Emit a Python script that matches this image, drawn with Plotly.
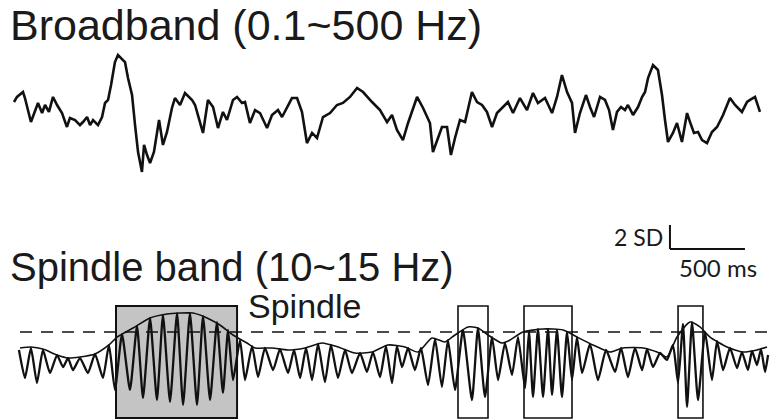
import plotly.graph_objects as go

W, H = 772, 420

# ---- Broadband (0.1-500 Hz) trace: time (s), amplitude (SD) ----
bb_t = [0.000, 0.020, 0.060, 0.073, 0.113, 0.140, 0.160, 0.187, 0.207, 0.233,
        0.260, 0.287, 0.320, 0.353, 0.373, 0.407, 0.440, 0.460, 0.487, 0.507,
        0.527, 0.560, 0.587, 0.607, 0.627, 0.647, 0.673, 0.693, 0.740, 0.760,
        0.787, 0.807, 0.827, 0.853, 0.867, 0.887, 0.907, 0.933, 0.967, 0.993,
        1.020, 1.053, 1.073, 1.107, 1.140, 1.187, 1.207, 1.260, 1.293, 1.327,
        1.360, 1.393, 1.420, 1.460, 1.487, 1.520, 1.540, 1.573, 1.607, 1.640,
        1.687, 1.720, 1.760, 1.787, 1.820, 1.853, 1.887, 1.920, 1.953, 1.987,
        2.020, 2.060, 2.107, 2.153, 2.193, 2.240, 2.287, 2.327, 2.387, 2.440,
        2.487, 2.520, 2.553, 2.593, 2.627, 2.687, 2.727, 2.773, 2.793, 2.827,
        2.853, 2.887, 2.913, 2.940, 2.973, 3.007, 3.053, 3.087, 3.120, 3.153,
        3.187, 3.220, 3.260, 3.293, 3.327, 3.373, 3.420, 3.460, 3.493, 3.540,
        3.587, 3.620, 3.653, 3.687, 3.720, 3.740, 3.773, 3.813, 3.840, 3.867,
        3.907, 3.940, 3.967, 3.993, 4.020, 4.047, 4.073, 4.093, 4.127, 4.160,
        4.187, 4.207, 4.227, 4.260, 4.293, 4.320, 4.340, 4.360, 4.393, 4.420,
        4.453, 4.487, 4.507, 4.533, 4.560, 4.587, 4.620, 4.653, 4.687, 4.727,
        4.773, 4.807, 4.853, 4.887, 4.907, 4.940, 4.973]
bb_a = [0.25, 0.67, 1.08, 0.58, -1.42, -0.42, 0.17, -0.67, 0.00, -0.58,
        0.67, 0.00, -0.67, -1.83, -1.08, -1.25, -1.67, -1.42, -1.00, -1.67,
        -1.25, -1.67, -1.00, 0.17, 0.42, 1.67, 3.58, 4.17, 3.58, 2.25,
        0.83, -1.67, -3.92, -5.58, -3.33, -4.17, -4.83, -3.92, -1.25, -3.33,
        -2.25, -0.25, 0.58, 0.00, 1.00, 0.42, 0.00, -2.33, 0.42, -0.17,
        -1.92, -0.58, -1.25, 0.42, 0.67, 0.17, 0.25, -1.50, -0.42, -0.67,
        -1.92, -0.83, -0.42, -1.00, -0.17, 0.58, 0.58, -0.58, -3.17, -2.33,
        -2.75, -1.00, -0.67, 0.00, 0.17, 0.67, 1.42, 1.08, 0.25, -0.42,
        -1.42, -0.83, -2.08, -2.92, -1.50, 0.67, -0.25, -1.50, -3.92, -2.75,
        -1.83, -1.83, -4.17, -2.75, -1.25, -1.42, 1.08, 0.25, 0.00, -0.58,
        -1.83, -0.67, -0.17, 0.25, -0.67, 0.58, -0.42, 1.00, 0.17, 0.58,
        -0.67, 0.67, 2.50, 1.08, 0.17, -2.33, -0.67, 0.83, -0.17, -1.00,
        0.67, 0.42, -0.42, -2.08, -0.58, -0.17, -0.42, 0.00, -0.83, -0.17,
        0.67, 1.08, 2.25, 3.33, 2.92, 0.83, -1.25, -3.08, -2.33, -1.50,
        -3.08, -0.67, -1.42, -2.33, -2.25, -2.92, -3.17, -2.25, -1.83, -0.83,
        0.58, 0.00, -0.58, 0.25, 0.42, 0.67, -0.58]

# ---- Spindle band (10-15 Hz) filtered signal: time (s), amplitude (SD) ----
sp_t = [0.033, 0.073, 0.113, 0.153, 0.193, 0.240, 0.287, 0.327, 0.360, 0.393,
        0.440, 0.493, 0.540, 0.593, 0.633, 0.673, 0.720, 0.773, 0.820, 0.860,
        0.907, 0.953, 0.993, 1.040, 1.087, 1.127, 1.173, 1.220, 1.260, 1.307,
        1.353, 1.393, 1.427, 1.460, 1.507, 1.540, 1.587, 1.627, 1.673, 1.727,
        1.773, 1.827, 1.867, 1.907, 1.947, 1.987, 2.027, 2.073, 2.113, 2.160,
        2.207, 2.253, 2.307, 2.353, 2.393, 2.440, 2.480, 2.520, 2.553, 2.587,
        2.627, 2.673, 2.713, 2.760, 2.807, 2.853, 2.893, 2.940, 2.993, 3.053,
        3.093, 3.140, 3.187, 3.227, 3.273, 3.320, 3.360, 3.407, 3.433, 3.460,
        3.493, 3.527, 3.560, 3.587, 3.620, 3.653, 3.687, 3.720, 3.753, 3.787,
        3.840, 3.893, 3.947, 4.007, 4.047, 4.093, 4.140, 4.187, 4.220, 4.260,
        4.307, 4.353, 4.393, 4.427, 4.460, 4.487, 4.520, 4.560, 4.607, 4.653,
        4.687, 4.727, 4.773, 4.820, 4.853, 4.893, 4.920, 4.953, 4.980, 5.007,
        5.027]
sp_a = [1.00, -1.33, 1.17, -1.75, 1.00, -0.92, 0.58, -0.42, 0.33, -0.67,
        0.33, -0.92, 0.67, -1.33, 1.42, -2.33, 2.33, -2.33, 3.00, -3.00,
        3.67, -3.17, 3.92, -3.33, 4.08, -3.58, 4.08, -3.58, 3.83, -3.17,
        3.33, -2.58, 2.67, -1.50, 1.83, -1.50, 1.33, -1.25, 1.17, -0.67,
        1.08, -0.92, 1.00, -1.33, 1.17, -1.50, 1.50, -1.67, 1.42, -1.33,
        1.00, -0.92, 0.75, -0.83, 0.83, -1.25, 1.33, -1.75, 1.33, -0.42,
        1.17, -0.67, 1.17, -1.92, 1.92, -2.08, 1.83, -2.33, 2.67, -3.17,
        2.83, -2.92, 2.08, -1.50, 1.58, -1.08, 2.08, -2.17, 2.58, -2.92,
        2.75, -2.92, 2.75, -2.75, 2.67, -2.92, 2.50, -1.50, 2.08, -0.92,
        1.50, -1.50, 1.00, -0.83, 1.17, -1.25, 1.17, -0.67, 1.08, -0.42,
        0.75, 0.17, 1.42, -1.75, 3.17, -3.75, 3.33, -3.17, 2.50, -1.50,
        1.75, -0.67, 1.17, -0.50, 0.83, -0.67, 0.92, -0.25, 1.08, -0.83,
        0.58]

# ---- Amplitude envelope of the spindle-band signal ----
env_t = [0.040, 0.113, 0.193, 0.287, 0.360, 0.440, 0.540, 0.633, 0.687, 0.793,
         0.907, 1.020, 1.107, 1.193, 1.287, 1.373, 1.460, 1.553, 1.607, 1.720,
         1.827, 1.940, 2.053, 2.160, 2.273, 2.387, 2.493, 2.607, 2.693, 2.787,
         2.873, 2.940, 3.027, 3.093, 3.160, 3.253, 3.307, 3.393, 3.527, 3.660,
         3.753, 3.860, 3.973, 4.060, 4.193, 4.287, 4.353, 4.420, 4.507, 4.573,
         4.640, 4.753, 4.860, 4.953, 5.020]
env_a = [1.17, 1.25, 1.08, 0.58, 0.33, 0.42, 0.67, 1.42, 2.08, 2.83,
         3.67, 4.00, 4.08, 4.08, 3.67, 3.08, 2.25, 1.58, 1.17, 1.17,
         1.00, 1.17, 1.58, 1.25, 0.75, 0.83, 1.42, 1.25, 0.83, 2.00,
         1.67, 2.25, 2.92, 2.83, 2.25, 1.58, 1.83, 2.50, 2.75, 2.67,
         2.08, 1.42, 0.83, 1.17, 1.17, 0.83, 0.42, 2.08, 3.33, 2.92,
         2.08, 1.25, 0.83, 1.00, 1.25]

threshold_sd = 2.5
threshold_span = (0.04, 5.02)

# Detected spindle windows (start s, end s); first one highlighted
spindle_windows = [(0.680, 1.487), (2.960, 3.160), (3.400, 3.720), (4.427, 4.593)]
highlighted = [True, False, False, False]
window_half_height_sd = 4.67

scale_ms = 500
scale_sd = 2

# ---- axis geometry ----
x_range = [-14 / 150, (W - 14) / 150]
top_domain = [1 - 185 / H, 1 - 40 / H]
top_range = [(105 - 185) / 12, (105 - 40) / 12]
bot_domain = [0, 1 - 200 / H]
bot_range = [(362 - 420) / 12, (362 - 200) / 12]

fig = go.Figure()

fig.add_trace(go.Scatter(x=bb_t, y=bb_a, mode="lines",
                         line=dict(color="#111111", width=2.6),
                         xaxis="x", yaxis="y", hoverinfo="skip"))

fig.add_trace(go.Scatter(x=list(threshold_span), y=[threshold_sd, threshold_sd],
                         mode="lines",
                         line=dict(color="#111111", width=1.5, dash="12px,9px"),
                         xaxis="x", yaxis="y2", hoverinfo="skip"))

fig.add_trace(go.Scatter(x=sp_t, y=sp_a, mode="lines",
                         line=dict(color="#111111", width=2.3, shape="spline", smoothing=0.5),
                         xaxis="x", yaxis="y2", hoverinfo="skip"))

fig.add_trace(go.Scatter(x=env_t, y=env_a, mode="lines",
                         line=dict(color="#111111", width=1.6, shape="spline", smoothing=0.6),
                         xaxis="x", yaxis="y2", hoverinfo="skip"))

shapes = []
for (t0, t1), hl in zip(spindle_windows, highlighted):
    shapes.append(dict(type="rect", xref="x", yref="y2",
                       x0=t0, x1=t1, y0=-window_half_height_sd, y1=window_half_height_sd,
                       line=dict(color="#111111", width=2 if hl else 1.6),
                       fillcolor="#c4c4c4" if hl else "rgba(0,0,0,0)",
                       layer="below"))

# scale bar anchored in the bottom panel
sb_t0, sb_a0 = 4.373, 9.42
shapes.append(dict(type="line", xref="x", yref="y2", x0=sb_t0, x1=sb_t0,
                   y0=sb_a0, y1=sb_a0 + scale_sd, line=dict(color="#111111", width=2)))
shapes.append(dict(type="line", xref="x", yref="y2", x0=sb_t0, x1=sb_t0 + scale_ms / 1000,
                   y0=sb_a0, y1=sb_a0, line=dict(color="#111111", width=2)))

title_font = dict(family="Liberation Sans, Arial, sans-serif", size=42, color="#1a1a1a")
annotations = [
    dict(text="Broadband (0.1~500 Hz)", xref="paper", yref="paper",
         x=8 / W, y=1 - 25 / H, xanchor="left", yanchor="middle",
         showarrow=False, font=dict(title_font, size=43)),
    dict(text="Spindle band (10~15 Hz)", xref="paper", yref="paper",
         x=8 / W, y=1 - 267 / H, xanchor="left", yanchor="middle",
         showarrow=False, font=dict(title_font, size=40)),
    dict(text="Spindle", xref="x", yref="y2",
         x=(246 - 14) / 150, y=(362 - 306) / 12, xanchor="left", yanchor="middle",
         showarrow=False,
         font=dict(family="Liberation Sans, Arial, sans-serif", size=34, color="#1a1a1a")),
    dict(text=f"{scale_sd} SD", xref="x", yref="y2",
         x=sb_t0 - 0.03, y=sb_a0 + 1.0, xanchor="right", yanchor="middle",
         showarrow=False,
         font=dict(family="Lato, sans-serif", size=23, color="#1a1a1a")),
    dict(text=f"{scale_ms} ms", xref="x", yref="y2",
         x=sb_t0 + 0.32, y=sb_a0 - 1.55, xanchor="center", yanchor="middle",
         showarrow=False,
         font=dict(family="Lato, sans-serif", size=24, color="#1a1a1a")),
]

axis_off = dict(visible=False, showgrid=False, zeroline=False, fixedrange=True)
fig.update_layout(
    width=W, height=H,
    margin=dict(l=0, r=0, t=0, b=0),
    paper_bgcolor="white", plot_bgcolor="white",
    showlegend=False,
    xaxis=dict(range=x_range, **axis_off),
    yaxis=dict(range=top_range, domain=top_domain, **axis_off),
    yaxis2=dict(range=bot_range, domain=bot_domain, anchor="x", **axis_off),
    shapes=shapes,
    annotations=annotations,
)

fig.write_html("out.html")
